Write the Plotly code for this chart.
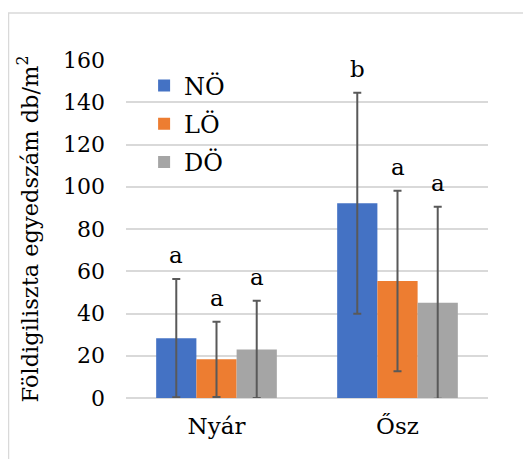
import plotly.graph_objects as go

categories = ["Nyár", "Ősz"]
series_names = ["NÖ", "LÖ", "DÖ"]
values_NO = [28.3, 92.2]
values_LO = [18.3, 55.4]
values_DO = [23.0, 45.1]
errors_NO = [28.0, 52.3]
errors_LO = [17.8, 42.7]
errors_DO = [23.0, 45.4]
letters_NO = ["a", "b"]
letters_LO = ["a", "a"]
letters_DO = ["a", "a"]
y_ticks = [0, 20, 40, 60, 80, 100, 120, 140, 160]

colors = ["#4472C4", "#ED7D31", "#A5A5A5"]
FONT = "DejaVu Serif"

vals = [values_NO, values_LO, values_DO]
errs = [errors_NO, errors_LO, errors_DO]
lets = [letters_NO, letters_LO, letters_DO]

fig = go.Figure()
for name, v, e, c in zip(series_names, vals, errs, colors):
    fig.add_trace(go.Bar(
        name=name, x=categories, y=v, legendgroup=name,
        marker=dict(color=c, line=dict(width=0)),
        error_y=dict(type="data", array=e, visible=True,
                     color="#595959", thickness=2, width=4),
    ))

bargap = 1/3
bw = (1 - bargap) / 3
annotations = []
for si, (v, e, L) in enumerate(zip(vals, errs, lets)):
    for ci in range(len(categories)):
        annotations.append(dict(
            x=ci + (si - 1) * bw, y=v[ci] + e[ci], xref="x", yref="y",
            text=L[ci], showarrow=False, yanchor="bottom", yshift=9,
            font=dict(family=FONT, size=23, color="black"),
        ))

# page body has an 8px margin, so the figure is sized to end at the window edge
W, H = 523, 451
ml, mr, mt, mb = 118, 43, 52, 61
pw, ph = W - ml - mr, H - mt - mb
fig.add_shape(type="rect", xref="paper", yref="paper",
              x0=(0.5 - ml) / pw, x1=(W + 20 - ml) / pw,
              y0=-(mb + 20) / ph, y1=(H - mb - 5) / ph,
              line=dict(color="#D9D9D9", width=1.5), fillcolor="rgba(0,0,0,0)", layer="below")

fig.update_layout(
    width=W, height=H,
    margin=dict(l=ml, r=mr, t=mt, b=mb),
    paper_bgcolor="white", plot_bgcolor="white",
    barmode="group", bargap=bargap, bargroupgap=0,
    font=dict(family=FONT, size=22, color="black"),
    annotations=annotations,
    legend=dict(x=0.05, y=0.99, xanchor="left", yanchor="top",
                bgcolor="rgba(0,0,0,0)", font=dict(family=FONT, size=24, color="black"),
                itemwidth=30, traceorder="grouped", tracegroupgap=4),
    showlegend=True,
)
fig.update_xaxes(showgrid=False, showline=False, zeroline=False, automargin=False,
                 tickfont=dict(family=FONT, size=23, color="black"), ticks="", ticklabelstandoff=12)
fig.update_yaxes(range=[0, 160], tickvals=y_ticks, showgrid=True, automargin=False,
                 gridcolor="#D9D9D9", gridwidth=1.5, zeroline=True,
                 zerolinecolor="#D9D9D9", zerolinewidth=1.5, showline=False,
                 ticks="", ticklabelstandoff=20,
                 tickfont=dict(family=FONT, size=22, color="black"),
                 title=dict(text="Földigiliszta egyedszám db/m<sup>2</sup>",
                            font=dict(family=FONT, size=22.5, color="black"), standoff=18))

fig.write_html("out.html")
